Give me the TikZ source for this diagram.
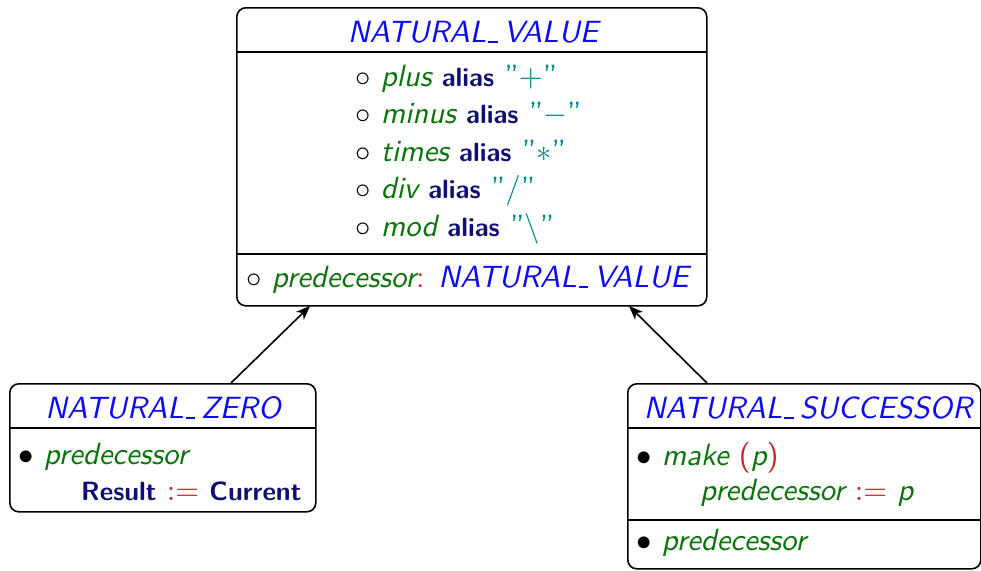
\documentclass[tikz,border=0pt]{standalone}
\usepackage{xcolor}
\usepackage{graphicx}
\usetikzlibrary{arrows.meta}
\definecolor{clsblue}{RGB}{10,10,245}
\definecolor{featgreen}{RGB}{10,115,10}
\definecolor{kwnavy}{RGB}{15,15,115}
\definecolor{symred}{RGB}{200,40,40}
\definecolor{strteal}{RGB}{0,135,135}
\newcommand{\T}[1]{\scalebox{3.07}{\sffamily\fontsize{10}{12}\selectfont #1}}
\newcommand{\us}{\makebox[0.56em][l]{\kern0.06em\rule[-0.02em]{0.3em}{0.05em}}}
\newcommand{\cls}[1]{{\color{clsblue}\itshape #1}}
\newcommand{\feat}[1]{{\color{featgreen}\itshape #1}}
\newcommand{\kw}[1]{{\color{kwnavy}\fontsize{8.6}{10}\selectfont\bfseries #1}}
\newcommand{\sym}[1]{{\color{symred}#1}}
\newcommand{\str}[1]{{\color{strteal}''#1''}}
\begin{document}
\begin{tikzpicture}[x=1pt,y=-1pt,
  box/.style={draw, line width=1.6pt, rounded corners=9pt, anchor=north west, inner sep=0pt},
  sep/.style={line width=1.6pt},
  txt/.style={anchor=base west, inner sep=0pt},
  ttl/.style={anchor=base, inner sep=0pt},
  arr/.style={line width=1.6pt, -{Stealth[length=14pt,width=11pt,inset=4pt]}}]
\useasboundingbox (0,0) rectangle (981,570);
% top box
\node[box, minimum width=470pt, minimum height=298pt] (val) at (236,7) {};
\draw[sep] (236,52) -- (706,52);
\draw[sep] (236,254) -- (706,254);
\node[ttl] (valt) at (473,42) {\T{\cls{NATURAL\us VALUE}}};
\node[txt] (f1) at (355,86) {\T{$\circ$ \feat{plus} \kw{alias} \str{$+$}}};
\node[txt] (f2) at (355,123.5) {\T{$\circ$ \feat{minus} \kw{alias} \str{$-$}}};
\node[txt] (f3) at (355,161) {\T{$\circ$ \feat{times} \kw{alias} \str{$*$}}};
\node[txt] (f4) at (355,198.5) {\T{$\circ$ \feat{div} \kw{alias} \str{$/$}}};
\node[txt] (f5) at (355,236) {\T{$\circ$ \feat{mod} \kw{alias} \str{$\backslash$}}};
\node[txt] (f6) at (246,287) {\T{$\circ$ \feat{predecessor}\sym{:} \cls{NATURAL\us VALUE}}};
% left box
\node[box, minimum width=306pt, minimum height=128pt] (zero) at (9,383) {};
\draw[sep] (9,428) -- (315,428);
\node[ttl] (zerot) at (163,418) {\T{\cls{NATURAL\us ZERO}}};
\node[txt] (z1) at (18,464) {\T{$\bullet$ \feat{predecessor}}};
\node[txt] (z2) at (81,500) {\T{\kw{Result} \sym{$:=$} \kw{Current}}};
% right box
\node[box, minimum width=353pt, minimum height=185pt] (succ) at (627,383) {};
\draw[sep] (627,428) -- (980,428);
\draw[sep] (627,520) -- (980,520);
\node[ttl] (succt) at (808,418) {\T{\cls{NATURAL\us SUCCESSOR}}};
\node[txt] (s1) at (636,465) {\T{$\bullet$ \feat{make} \sym{(}\feat{p}\sym{)}}};
\node[txt] (s2) at (700,500) {\T{\feat{predecessor} \sym{$:=$} \feat{p}}};
\node[txt] (s3) at (636,550) {\T{$\bullet$ \feat{predecessor}}};
% arrows
\coordinate (a1s) at (231,383);
\coordinate (a1e) at (310,306);
\coordinate (a2s) at (707,383);
\coordinate (a2e) at (629,306);
\draw[arr] (a1s) -- (a1e);
\draw[arr] (a2s) -- (a2e);
\end{tikzpicture}
\end{document}
